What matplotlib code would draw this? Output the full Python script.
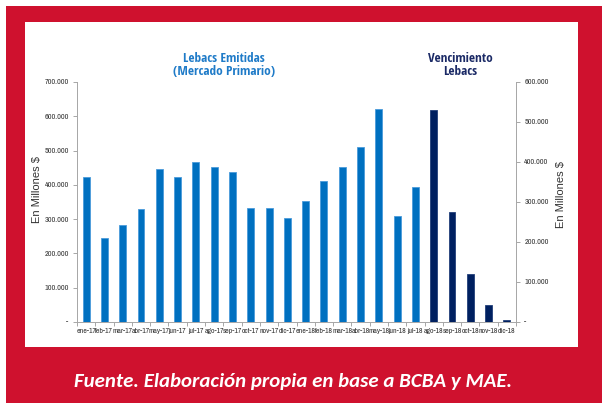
import matplotlib
matplotlib.use("Agg")
import matplotlib.pyplot as plt
from matplotlib.patches import Rectangle
from matplotlib.ticker import FuncFormatter, FixedLocator
import numpy as np

categories = ["ene-17", "feb-17", "mar-17", "abr-17", "may-17", "jun-17", "jul-17",
              "ago-17", "sep-17", "oct-17", "nov-17", "dic-17", "ene-18", "feb-18",
              "mar-18", "abr-18", "may-18", "jun-18", "jul-18", "ago-18", "sep-18",
              "oct-18", "nov-18", "dic-18"]
emitidas = [423000, 244000, 282000, 329000, 447000, 423000, 468000, 453000, 437000,
            333000, 332000, 304000, 353000, 410000, 453000, 511000, 620000, 308000,
            393000]
vencimiento = [529000, 275000, 121000, 42000, 4000]
left_ticks = [0, 100000, 200000, 300000, 400000, 500000, 600000, 700000]
right_ticks = [0, 100000, 200000, 300000, 400000, 500000, 600000]

narrow = ["Archivo Narrow", "Liberation Sans"]
title_font = ["Open Sans Condensed", "PT Sans Narrow", "DejaVu Sans"]

W, H = 610, 403
fig = plt.figure(figsize=(W / 100, H / 100), dpi=100)
fig.patch.set_facecolor("white")

red = "#CF112E"
fig.patches.append(Rectangle((6 / W, 0), (602 - 6) / W, (H - 6) / H, transform=fig.transFigure,
                             facecolor=red, edgecolor="none", zorder=-2))
fig.patches.append(Rectangle((25 / W, (H - 347) / H), (578 - 25) / W, (347 - 22) / H,
                             transform=fig.transFigure, facecolor="white", edgecolor="none", zorder=-1))

ax = fig.add_axes([77 / W, (H - 322) / H, (516 - 77) / W, (322 - 82) / H])
ax.set_zorder(2)
ax.set_facecolor("none")
ax2 = ax.twinx()
ax2.set_zorder(3)
ax2.set_facecolor("none")

x1 = np.arange(len(emitidas))
x2 = np.arange(len(emitidas), len(emitidas) + len(vencimiento))
ax.bar(x1, emitidas, width=0.38, color="#0070C0", edgecolor="#4A9BDB", linewidth=0.6)
ax2.bar(x2, vencimiento, width=0.38, color="#002060", edgecolor="#22407A", linewidth=0.6)

ax.set_xlim(-0.5, len(categories) - 0.5)
ax.set_ylim(0, 700000)
ax2.set_ylim(0, 600000)

def fmt(v, pos):
    if v == 0:
        return "-"
    return f"{int(v):,}".replace(",", ".")

ax.yaxis.set_major_locator(FixedLocator(left_ticks))
ax2.yaxis.set_major_locator(FixedLocator(right_ticks))
ax.yaxis.set_major_formatter(FuncFormatter(fmt))
ax2.yaxis.set_major_formatter(FuncFormatter(fmt))

ax.set_xticks(np.arange(len(categories)))
ax.set_xticklabels(categories)
ax.set_xticks(np.arange(-0.5, len(categories)), minor=True)
ax.tick_params(axis="x", which="major", length=0, pad=4, labelsize=5.6, labelcolor="#333333")
ax.tick_params(axis="x", which="minor", length=3, color="#999999", width=0.6, direction="out")
ax.tick_params(axis="y", length=3, color="#999999", width=0.6, labelsize=5.8, labelcolor="#333333", pad=3)
ax2.tick_params(axis="y", length=3, color="#999999", width=0.6, labelsize=5.8, labelcolor="#333333", pad=3)

for lab in ax.get_xticklabels() + ax.get_yticklabels() + ax2.get_yticklabels():
    lab.set_family(narrow)

for a in (ax, ax2):
    a.spines["top"].set_visible(False)
    for s in ("left", "right", "bottom"):
        a.spines[s].set_color("#A6A6A6")
        a.spines[s].set_linewidth(0.7)
ax.spines["right"].set_visible(False)
ax2.spines["left"].set_visible(False)
ax2.spines["bottom"].set_visible(False)

fig.text(37 / W, 1 - 190 / H, "En Millones $", rotation=90, ha="center", va="center",
         fontsize=8, family="Liberation Sans", color="#333333")
fig.text(561 / W, 1 - 195 / H, "En Millones $", rotation=90, ha="center", va="center",
         fontsize=8, family="Liberation Sans", color="#333333")

fig.text(224 / W, 1 - 65 / H, "Lebacs Emitidas\n(Mercado Primario)", ha="center", va="center",
         fontsize=9.5, fontweight="bold", family=title_font, color="#1F7BC8", linespacing=1.05)
fig.text(460 / W, 1 - 65 / H, "Vencimiento\nLebacs", ha="center", va="center",
         fontsize=9.5, fontweight="bold", family=title_font, color="#1B2A66", linespacing=1.05)

fig.text(293 / W, 1 - 381 / H, "Fuente. Elaboración propia en base a BCBA y MAE.", ha="center",
         va="center", fontsize=15, fontweight="bold", fontstyle="italic", family=["Carlito", "Lato"],
         color="white")

fig.savefig("out.png", dpi=100)
